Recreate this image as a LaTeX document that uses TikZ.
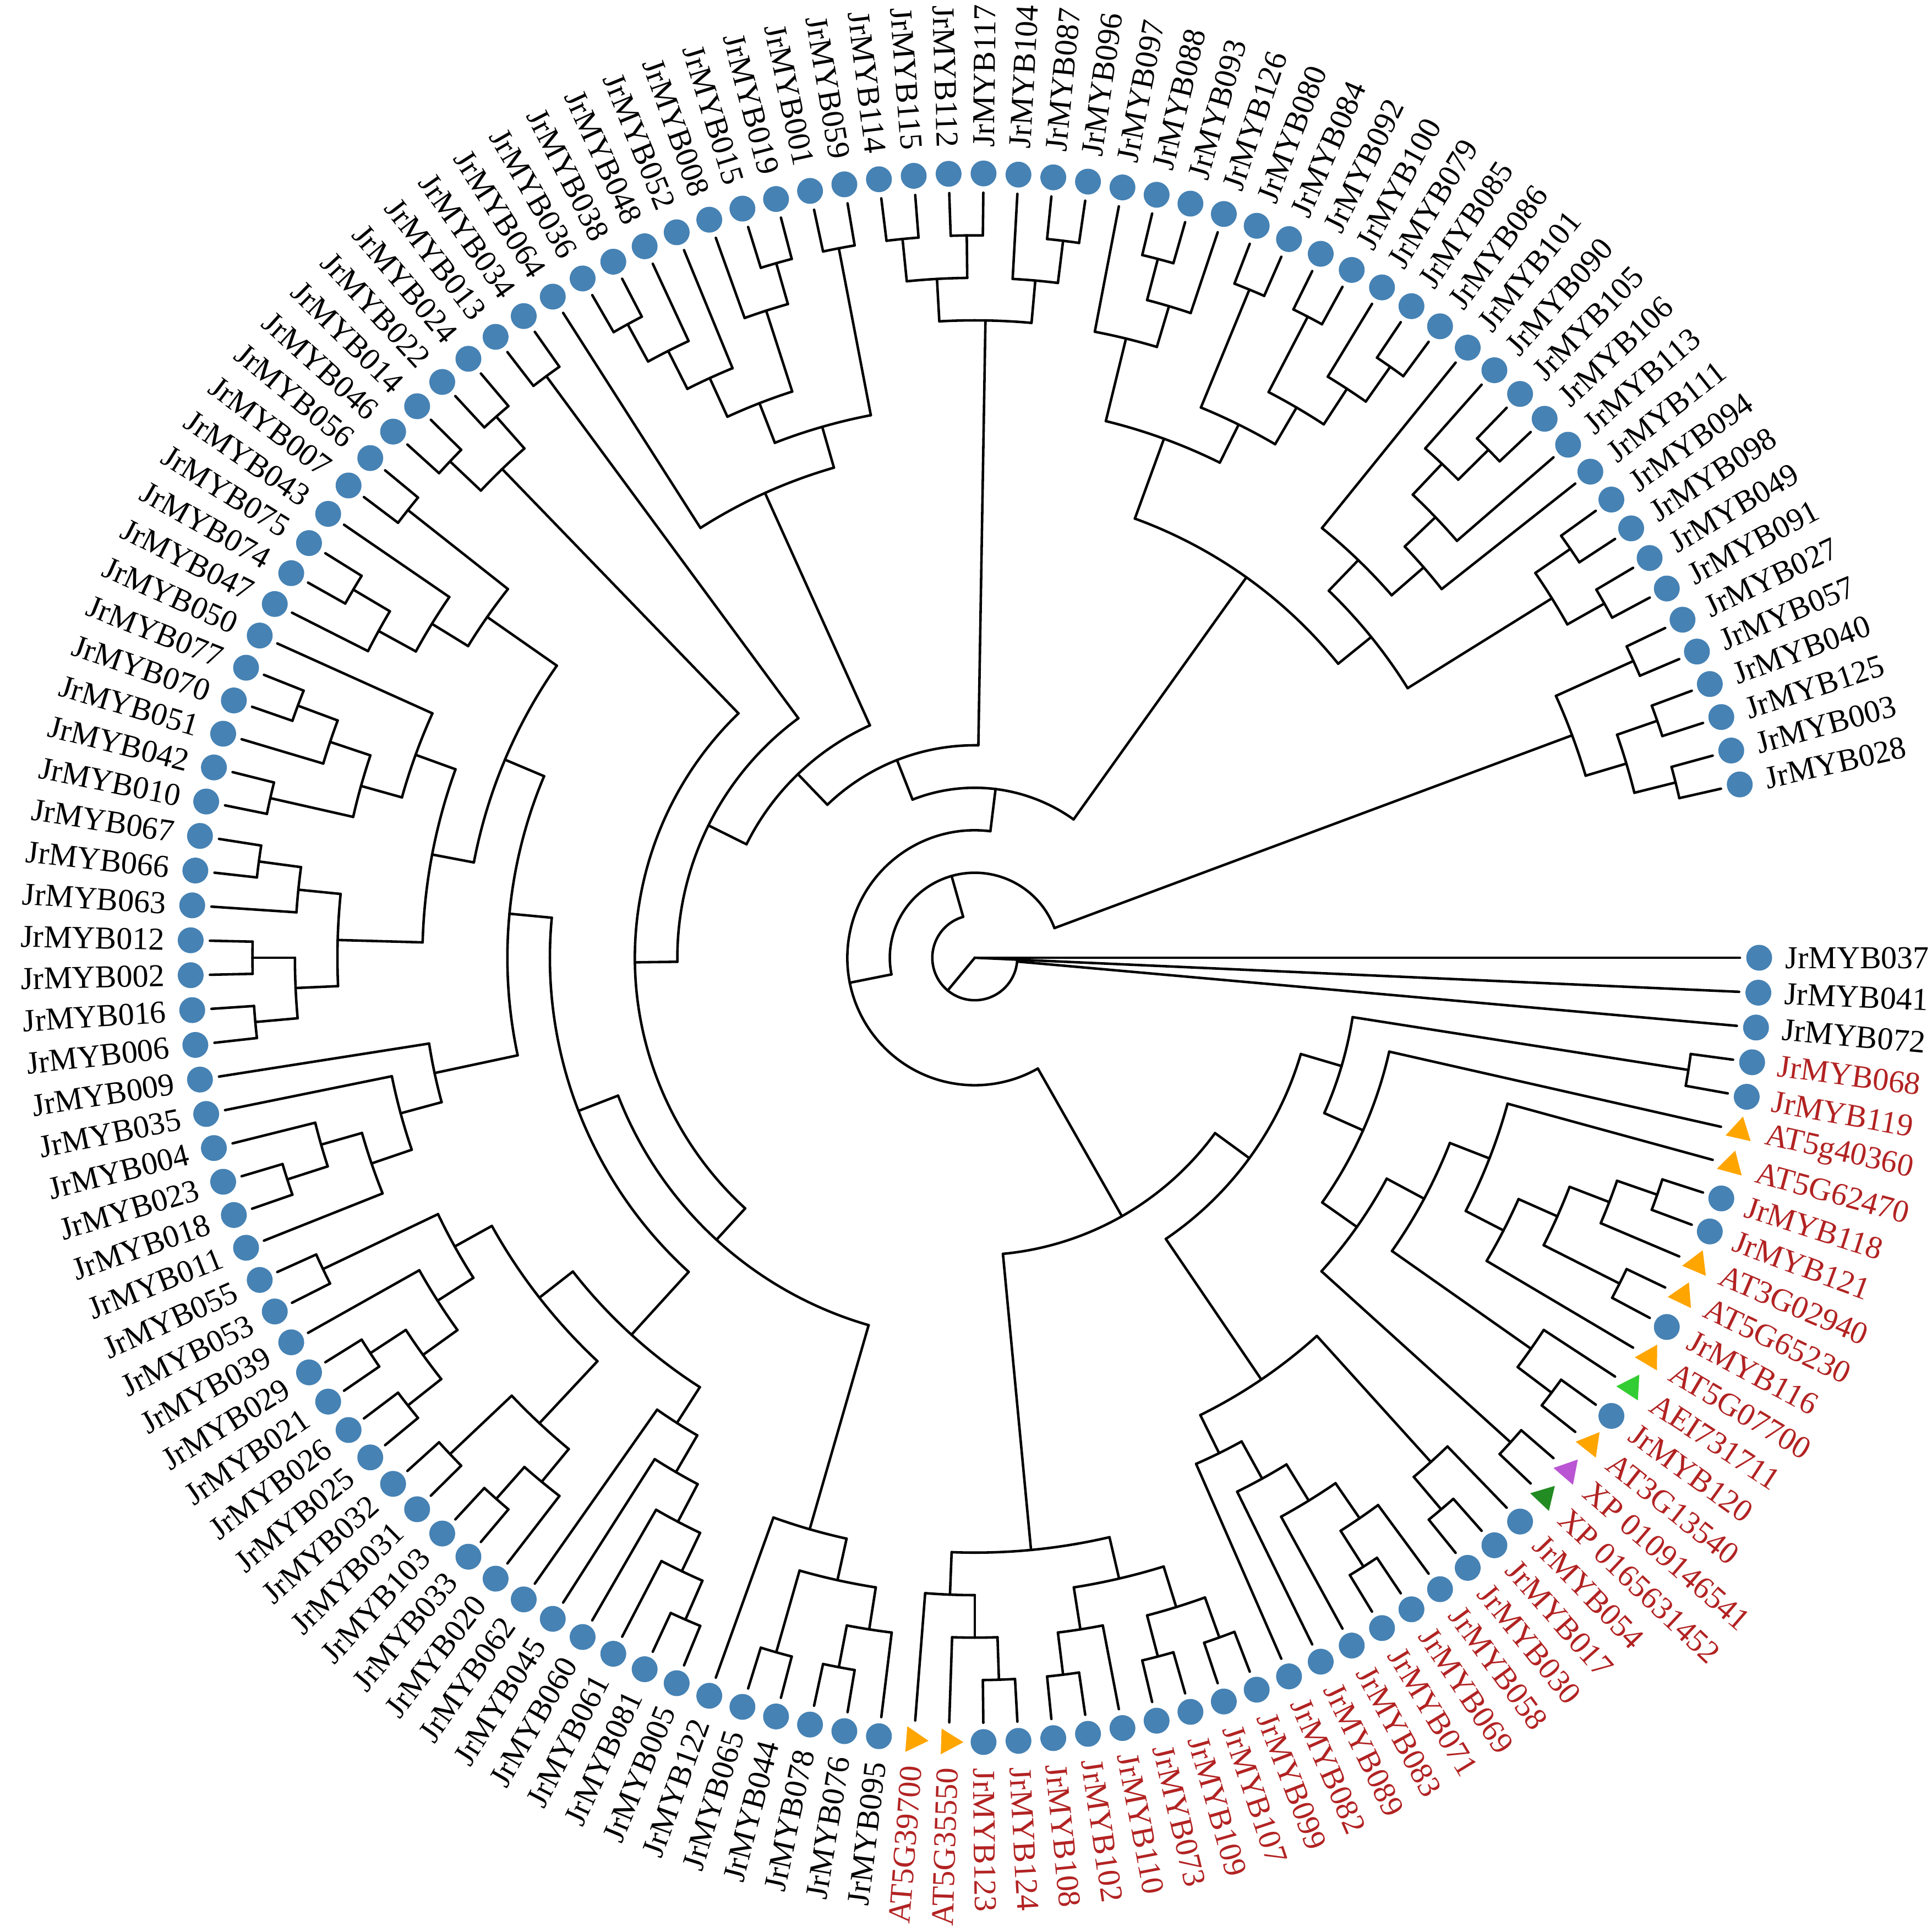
\documentclass[tikz,border=0pt]{standalone}
\usepackage{fontspec}
\setmainfont{Liberation Serif}
\usetikzlibrary{shapes.geometric}
\definecolor{mkblue}{RGB}{70,130,180}
\definecolor{mkorange}{RGB}{255,165,0}
\definecolor{mklime}{RGB}{50,205,50}
\definecolor{mkpurple}{RGB}{186,85,211}
\definecolor{mkdgreen}{RGB}{34,139,34}
\definecolor{lblred}{RGB}{178,34,34}
\def\dA{2.553191}
\def\lv{0.772}
\def\rleaf{13.9}
\def\rmark{14.25}
\def\rlab{14.72}
\tikzset{
  branch/.style={line width=1.3pt, line cap=round, line join=round},
  lbl/.style={inner sep=0pt, font=\fontsize{16.5}{19}\selectfont},
  mcirc/.style={circle, fill=mkblue, minimum size=0.47cm, inner sep=0pt},
  mtri/.style={regular polygon, regular polygon sides=3, minimum size=0.54cm, inner sep=0pt, fill=#1},
}
\newcommand\Leaf[4]{%
  \pgfmathsetmacro\la{-#1*\dA}%
  \expandafter\xdef\csname tA@l#1\endcsname{\la}%
  \coordinate (l#1) at (\la:\rleaf);
  \node[#2, rotate=\la] (m#1) at (\la:\rmark) {};
  \pgfmathtruncatemacro\isleft{(\la<-90) && (\la>-270)}%
  \ifnum\isleft=1
    \node[lbl, text=#3, anchor=east, rotate=\la+180] (t#1) at (\la:\rlab) {#4};
  \else
    \node[lbl, text=#3, anchor=west, rotate=\la] (t#1) at (\la:\rlab) {#4};
  \fi
}
\newcommand\Clade[3]{%
  \pgfmathsetmacro\crad{#2*\lv}%
  \gdef\cmin{1000}\gdef\cmax{-1000}%
  \foreach \cc in {#3}{%
    \edef\cAng{\csname tA@\cc\endcsname}%
    \pgfmathsetmacro\tmpmin{min(\cmin,\cAng)}\xdef\cmin{\tmpmin}%
    \pgfmathsetmacro\tmpmax{max(\cmax,\cAng)}\xdef\cmax{\tmpmax}%
  }%
  \pgfmathsetmacro\cmid{(\cmin+\cmax)/2}%
  \expandafter\xdef\csname tA@#1\endcsname{\cmid}%
  \coordinate (#1) at (\cmid:\crad);
  \draw[branch] (\cmin:\crad) arc[start angle=\cmin, end angle=\cmax, radius=\crad];
  \foreach \cc in {#3}{%
    \edef\cAng{\csname tA@\cc\endcsname}%
    \draw[branch] (\cAng:\crad) -- (\cc);
  }%
}
\begin{document}
\begin{tikzpicture}
\fill[white] (-17.71,-17.70) rectangle (17.39,17.40);
\useasboundingbox (-17.71,-17.70) rectangle (17.39,17.40);
\coordinate (root) at (0,0);
% leaves
\Leaf{0}{mcirc}{black}{JrMYB037}
\Leaf{1}{mcirc}{black}{JrMYB041}
\Leaf{2}{mcirc}{black}{JrMYB072}
\Leaf{3}{mcirc}{lblred}{JrMYB068}
\Leaf{4}{mcirc}{lblred}{JrMYB119}
\Leaf{5}{mtri=mkorange}{lblred}{AT5g40360}
\Leaf{6}{mtri=mkorange}{lblred}{AT5G62470}
\Leaf{7}{mcirc}{lblred}{JrMYB118}
\Leaf{8}{mcirc}{lblred}{JrMYB121}
\Leaf{9}{mtri=mkorange}{lblred}{AT3G02940}
\Leaf{10}{mtri=mkorange}{lblred}{AT5G65230}
\Leaf{11}{mcirc}{lblred}{JrMYB116}
\Leaf{12}{mtri=mkorange}{lblred}{AT5G07700}
\Leaf{13}{mtri=mklime}{lblred}{AEI731711}
\Leaf{14}{mcirc}{lblred}{JrMYB120}
\Leaf{15}{mtri=mkorange}{lblred}{AT3G13540}
\Leaf{16}{mtri=mkpurple}{lblred}{XP 0109146541}
\Leaf{17}{mtri=mkdgreen}{lblred}{XP 0165631452}
\Leaf{18}{mcirc}{lblred}{JrMYB054}
\Leaf{19}{mcirc}{lblred}{JrMYB017}
\Leaf{20}{mcirc}{lblred}{JrMYB030}
\Leaf{21}{mcirc}{lblred}{JrMYB058}
\Leaf{22}{mcirc}{lblred}{JrMYB069}
\Leaf{23}{mcirc}{lblred}{JrMYB071}
\Leaf{24}{mcirc}{lblred}{JrMYB083}
\Leaf{25}{mcirc}{lblred}{JrMYB089}
\Leaf{26}{mcirc}{lblred}{JrMYB082}
\Leaf{27}{mcirc}{lblred}{JrMYB099}
\Leaf{28}{mcirc}{lblred}{JrMYB107}
\Leaf{29}{mcirc}{lblred}{JrMYB109}
\Leaf{30}{mcirc}{lblred}{JrMYB073}
\Leaf{31}{mcirc}{lblred}{JrMYB110}
\Leaf{32}{mcirc}{lblred}{JrMYB102}
\Leaf{33}{mcirc}{lblred}{JrMYB108}
\Leaf{34}{mcirc}{lblred}{JrMYB124}
\Leaf{35}{mcirc}{lblred}{JrMYB123}
\Leaf{36}{mtri=mkorange}{lblred}{AT5G35550}
\Leaf{37}{mtri=mkorange}{lblred}{AT5G39700}
\Leaf{38}{mcirc}{black}{JrMYB095}
\Leaf{39}{mcirc}{black}{JrMYB076}
\Leaf{40}{mcirc}{black}{JrMYB078}
\Leaf{41}{mcirc}{black}{JrMYB044}
\Leaf{42}{mcirc}{black}{JrMYB065}
\Leaf{43}{mcirc}{black}{JrMYB122}
\Leaf{44}{mcirc}{black}{JrMYB005}
\Leaf{45}{mcirc}{black}{JrMYB081}
\Leaf{46}{mcirc}{black}{JrMYB061}
\Leaf{47}{mcirc}{black}{JrMYB060}
\Leaf{48}{mcirc}{black}{JrMYB045}
\Leaf{49}{mcirc}{black}{JrMYB062}
\Leaf{50}{mcirc}{black}{JrMYB020}
\Leaf{51}{mcirc}{black}{JrMYB033}
\Leaf{52}{mcirc}{black}{JrMYB103}
\Leaf{53}{mcirc}{black}{JrMYB031}
\Leaf{54}{mcirc}{black}{JrMYB032}
\Leaf{55}{mcirc}{black}{JrMYB025}
\Leaf{56}{mcirc}{black}{JrMYB026}
\Leaf{57}{mcirc}{black}{JrMYB021}
\Leaf{58}{mcirc}{black}{JrMYB029}
\Leaf{59}{mcirc}{black}{JrMYB039}
\Leaf{60}{mcirc}{black}{JrMYB053}
\Leaf{61}{mcirc}{black}{JrMYB055}
\Leaf{62}{mcirc}{black}{JrMYB011}
\Leaf{63}{mcirc}{black}{JrMYB018}
\Leaf{64}{mcirc}{black}{JrMYB023}
\Leaf{65}{mcirc}{black}{JrMYB004}
\Leaf{66}{mcirc}{black}{JrMYB035}
\Leaf{67}{mcirc}{black}{JrMYB009}
\Leaf{68}{mcirc}{black}{JrMYB006}
\Leaf{69}{mcirc}{black}{JrMYB016}
\Leaf{70}{mcirc}{black}{JrMYB002}
\Leaf{71}{mcirc}{black}{JrMYB012}
\Leaf{72}{mcirc}{black}{JrMYB063}
\Leaf{73}{mcirc}{black}{JrMYB066}
\Leaf{74}{mcirc}{black}{JrMYB067}
\Leaf{75}{mcirc}{black}{JrMYB010}
\Leaf{76}{mcirc}{black}{JrMYB042}
\Leaf{77}{mcirc}{black}{JrMYB051}
\Leaf{78}{mcirc}{black}{JrMYB070}
\Leaf{79}{mcirc}{black}{JrMYB077}
\Leaf{80}{mcirc}{black}{JrMYB050}
\Leaf{81}{mcirc}{black}{JrMYB047}
\Leaf{82}{mcirc}{black}{JrMYB074}
\Leaf{83}{mcirc}{black}{JrMYB075}
\Leaf{84}{mcirc}{black}{JrMYB043}
\Leaf{85}{mcirc}{black}{JrMYB007}
\Leaf{86}{mcirc}{black}{JrMYB056}
\Leaf{87}{mcirc}{black}{JrMYB046}
\Leaf{88}{mcirc}{black}{JrMYB014}
\Leaf{89}{mcirc}{black}{JrMYB022}
\Leaf{90}{mcirc}{black}{JrMYB024}
\Leaf{91}{mcirc}{black}{JrMYB013}
\Leaf{92}{mcirc}{black}{JrMYB034}
\Leaf{93}{mcirc}{black}{JrMYB064}
\Leaf{94}{mcirc}{black}{JrMYB036}
\Leaf{95}{mcirc}{black}{JrMYB038}
\Leaf{96}{mcirc}{black}{JrMYB048}
\Leaf{97}{mcirc}{black}{JrMYB052}
\Leaf{98}{mcirc}{black}{JrMYB008}
\Leaf{99}{mcirc}{black}{JrMYB015}
\Leaf{100}{mcirc}{black}{JrMYB019}
\Leaf{101}{mcirc}{black}{JrMYB001}
\Leaf{102}{mcirc}{black}{JrMYB059}
\Leaf{103}{mcirc}{black}{JrMYB114}
\Leaf{104}{mcirc}{black}{JrMYB115}
\Leaf{105}{mcirc}{black}{JrMYB112}
\Leaf{106}{mcirc}{black}{JrMYB117}
\Leaf{107}{mcirc}{black}{JrMYB104}
\Leaf{108}{mcirc}{black}{JrMYB087}
\Leaf{109}{mcirc}{black}{JrMYB096}
\Leaf{110}{mcirc}{black}{JrMYB097}
\Leaf{111}{mcirc}{black}{JrMYB088}
\Leaf{112}{mcirc}{black}{JrMYB093}
\Leaf{113}{mcirc}{black}{JrMYB126}
\Leaf{114}{mcirc}{black}{JrMYB080}
\Leaf{115}{mcirc}{black}{JrMYB084}
\Leaf{116}{mcirc}{black}{JrMYB092}
\Leaf{117}{mcirc}{black}{JrMYB100}
\Leaf{118}{mcirc}{black}{JrMYB079}
\Leaf{119}{mcirc}{black}{JrMYB085}
\Leaf{120}{mcirc}{black}{JrMYB086}
\Leaf{121}{mcirc}{black}{JrMYB101}
\Leaf{122}{mcirc}{black}{JrMYB090}
\Leaf{123}{mcirc}{black}{JrMYB105}
\Leaf{124}{mcirc}{black}{JrMYB106}
\Leaf{125}{mcirc}{black}{JrMYB113}
\Leaf{126}{mcirc}{black}{JrMYB111}
\Leaf{127}{mcirc}{black}{JrMYB094}
\Leaf{128}{mcirc}{black}{JrMYB098}
\Leaf{129}{mcirc}{black}{JrMYB049}
\Leaf{130}{mcirc}{black}{JrMYB091}
\Leaf{131}{mcirc}{black}{JrMYB027}
\Leaf{132}{mcirc}{black}{JrMYB057}
\Leaf{133}{mcirc}{black}{JrMYB040}
\Leaf{134}{mcirc}{black}{JrMYB125}
\Leaf{135}{mcirc}{black}{JrMYB003}
\Leaf{136}{mcirc}{black}{JrMYB028}
% red clade
\Clade{cS}{17}{l3,l4}
\Clade{cZ5}{17}{l7,l8}
\Clade{cZ3}{16}{cZ5,l9}
\Clade{cZ4}{17}{l10,l11}
\Clade{cZ2}{15}{cZ3,cZ4}
\Clade{cZ1}{14}{cZ2,l12}
\Clade{cV}{13}{l6,cZ1}
\Clade{cY2}{17}{l14,l15}
\Clade{cY}{16}{l13,cY2}
\Clade{cW}{12}{cV,cY}
\Clade{cX}{17}{l16,l17}
\Clade{cU}{11}{cW,cX}
\Clade{cT}{10}{l5,cU}
\Clade{cK}{9}{cS,cT}
\Clade{cR}{17}{l19,l20}
\Clade{cM}{16}{l18,cR}
\Clade{cQ}{17}{l22,l23}
\Clade{cP}{16}{l21,cQ}
\Clade{cO}{15}{l24,cP}
\Clade{cN}{14}{l25,cO}
\Clade{cL}{13}{l26,cN}
\Clade{cJ}{12}{cL,cM}
\Clade{cNten}{8}{cK,cJ}
\Clade{cD}{17}{l34,l35}
\Clade{cC}{16}{l36,cD}
\Clade{cA}{15}{l37,cC}
\Clade{cG}{17}{l32,l33}
\Clade{cE}{16}{cG,l31}
\Clade{cH}{17}{l29,l30}
\Clade{cI}{17}{l27,l28}
\Clade{cF}{16}{cH,cI}
\Clade{cB}{15}{cE,cF}
\Clade{cNeleven}{14}{cA,cB}
\Clade{cNfive}{7}{cNten,cNeleven}
% bottom
\Clade{kN16}{17}{l41,l42}
\Clade{kN18}{17}{l39,l40}
\Clade{kN17}{16}{kN18,l38}
\Clade{kN15}{15}{kN16,kN17}
\Clade{kN14}{14}{l43,kN15}
\Clade{bQ}{17}{l44,l45}
\Clade{bP}{16}{bQ,l46}
\Clade{bO}{15}{bP,l47}
\Clade{bN}{14}{bO,l48}
\Clade{bM}{13}{bN,l49}
\Clade{bK}{17}{l51,l52}
\Clade{bJ}{16}{l50,bK}
\Clade{bI}{17}{l53,l54}
\Clade{bH}{15}{bJ,bI}
\Clade{bF}{17}{l55,l56}
\Clade{bE}{17}{l57,l58}
\Clade{bD}{16}{bF,bE}
\Clade{bC}{15}{bD,l59}
\Clade{bA}{17}{l60,l61}
\Clade{bB}{14}{bC,bA}
\Clade{bG}{13}{bH,bB}
\Clade{bL}{12}{bM,bG}
% left
\Clade{aN}{17}{l63,l64}
\Clade{aM}{16}{aN,l65}
\Clade{aL}{15}{l62,aM}
\Clade{aK}{14}{aL,l66}
\Clade{aJ}{13}{aK,l67}
\Clade{aS}{17}{l68,l69}
\Clade{aR}{17}{l70,l71}
\Clade{aQ}{16}{aS,aR}
\Clade{aP}{17}{l73,l74}
\Clade{aO}{16}{l72,aP}
\Clade{aG}{15}{aQ,aO}
\Clade{aD}{17}{l75,l76}
\Clade{aA}{17}{l78,l79}
\Clade{aB}{16}{l77,aA}
\Clade{aC}{15}{aD,aB}
\Clade{aE}{14}{aC,l80}
\Clade{aF}{13}{aG,aE}
\Clade{dF}{17}{l82,l83}
\Clade{dG}{16}{l81,dF}
\Clade{dE}{17}{l85,l86}
\Clade{dQ}{15}{dG,l84}
\Clade{dZ}{14}{dQ,dE}
\Clade{aH}{12}{aF,dZ}
\Clade{aI}{11}{aJ,aH}
\Clade{kPl}{10}{bL,aI}
\Clade{kN13}{9}{kN14,kPl}
\Clade{dD}{17}{l87,l88}
\Clade{dB}{17}{l89,l90}
\Clade{dC}{16}{dD,dB}
\Clade{kN12}{8}{kN13,dC}
\Clade{dA}{17}{l91,l92}
\Clade{kN9}{7}{kN12,dA}
% upper left
\Clade{eW}{17}{l94,l95}
\Clade{eV}{16}{eW,l96}
\Clade{eU}{15}{eV,l97}
\Clade{eS}{17}{l99,l100}
\Clade{eT}{16}{l98,eS}
\Clade{eR}{14}{eU,eT}
\Clade{eX}{17}{l101,l102}
\Clade{eQ}{13}{eR,eX}
\Clade{kN8}{12}{l93,eQ}
\Clade{kN7}{6}{kN9,kN8}
\Clade{fN}{17}{l103,l104}
\Clade{fO}{17}{l105,l106}
\Clade{fL}{16}{fN,fO}
\Clade{fP}{17}{l108,l109}
\Clade{fM}{16}{l107,fP}
\Clade{fK}{15}{fL,fM}
\Clade{kN6}{5}{kN7,fK}
% upper right
\Clade{gJ}{17}{l111,l112}
\Clade{gI}{16}{gJ,l113}
\Clade{gG}{15}{l110,gI}
\Clade{gHa}{17}{l114,l115}
\Clade{gHb}{17}{l116,l117}
\Clade{gHe}{17}{l119,l120}
\Clade{gHd}{16}{l118,gHe}
\Clade{gHc}{15}{gHb,gHd}
\Clade{gH}{14}{gHa,gHc}
\Clade{gA}{13}{gG,gH}
\Clade{gCb}{17}{l123,l124}
\Clade{gCa}{16}{l122,gCb}
\Clade{gCc}{15}{gCa,l125}
\Clade{gCd}{14}{gCc,l126}
\Clade{gC}{13}{l121,gCd}
\Clade{gE}{17}{l127,l128}
\Clade{gF}{17}{l129,l130}
\Clade{gD}{16}{gE,gF}
\Clade{gB}{12}{gC,gD}
\Clade{gR}{11}{gA,gB}
\Clade{kN4}{4}{kN6,gR}
\Clade{hRd}{17}{l131,l132}
\Clade{hRb}{17}{l133,l134}
\Clade{hRc}{17}{l135,l136}
\Clade{hRa}{16}{hRb,hRc}
\Clade{hRU}{15}{hRd,hRa}
\Clade{kN3}{3}{cNfive,kN4}
\Clade{kN2}{2}{kN3,hRU}
\Clade{kN1}{1}{l2,kN2}
\draw[branch] (root) -- (l0);
\draw[branch] (root) -- (l1);
\draw[branch] (root) -- (kN1);
\end{tikzpicture}
\end{document}
